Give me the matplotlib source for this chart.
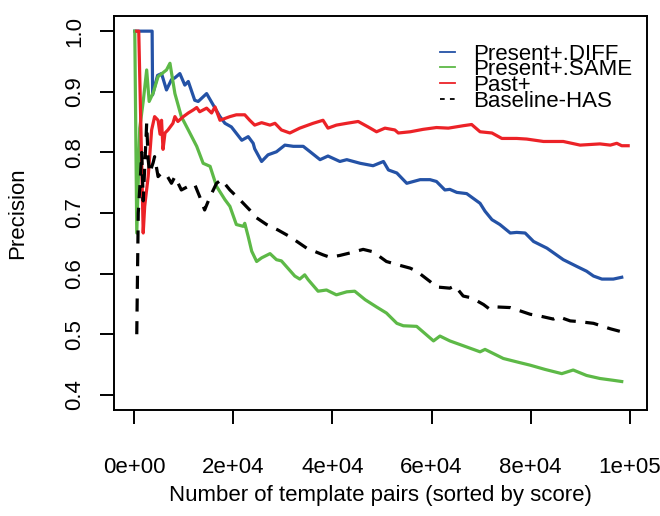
import matplotlib
matplotlib.use("Agg")
import matplotlib.pyplot as plt

plt.rcParams['font.family'] = ['Liberation Sans', 'DejaVu Sans']

# Present+.DIFF
diff_x = [100, 3600, 3700, 4700, 5500, 6500, 7500, 8200, 9200, 10200, 10900,
          12200, 12900, 14600, 16300, 17300, 18300, 19600, 21700, 23000, 24000,
          24300, 25700, 27000, 28700, 30400, 32100, 34100, 35500, 37500, 39100,
          41500, 42900, 45600, 48200, 50300, 51300, 53000, 55000, 57700, 59700,
          61000, 62700, 63700, 65100, 67100, 69800, 70800, 72200, 73800, 75900,
          77200, 78900, 80600, 83300, 86600, 89300, 91300, 92700, 94400, 96700,
          98400]
diff_y = [1.0, 1.0, 0.895, 0.927, 0.93, 0.903, 0.92, 0.923, 0.93, 0.911, 0.917,
          0.886, 0.884, 0.897, 0.873, 0.859, 0.848, 0.842, 0.82, 0.826, 0.815,
          0.806, 0.785, 0.796, 0.801, 0.812, 0.81, 0.81, 0.801, 0.788, 0.794,
          0.785, 0.788, 0.782, 0.778, 0.785, 0.771, 0.766, 0.749, 0.755, 0.755,
          0.752, 0.738, 0.739, 0.734, 0.732, 0.716, 0.703, 0.689, 0.681, 0.667,
          0.668, 0.667, 0.653, 0.642, 0.623, 0.612, 0.604, 0.596, 0.591, 0.591,
          0.594]

# Present+.SAME
same_x = [100, 500, 1100, 1800, 2500, 3000, 3800, 4800, 6500, 7200, 8200, 9500,
          10900, 12600, 13900, 15300, 16600, 18300, 19300, 20600, 22000, 22300,
          23000, 23700, 24700, 25700, 27400, 28700, 29700, 32400, 33400, 34400,
          35100, 37100, 38800, 40800, 42900, 44500, 46600, 48900, 50900, 53000,
          54300, 57000, 60400, 61700, 63700, 67100, 69800, 70800, 74500, 77900,
          79900, 82900, 86300, 88600, 91300, 94000, 96700, 98400]
same_y = [1.0, 0.667, 0.84, 0.884, 0.936, 0.884, 0.898, 0.925, 0.936, 0.947,
          0.897, 0.859, 0.837, 0.81, 0.782, 0.777, 0.744, 0.722, 0.711, 0.681,
          0.678, 0.683, 0.661, 0.637, 0.62, 0.626, 0.633, 0.623, 0.621, 0.596,
          0.591, 0.598, 0.59, 0.571, 0.573, 0.565, 0.57, 0.571, 0.557, 0.545,
          0.535, 0.518, 0.514, 0.513, 0.489, 0.497, 0.489, 0.479, 0.471, 0.475,
          0.46, 0.453, 0.449, 0.442, 0.435, 0.441, 0.432, 0.427, 0.424, 0.422]

# Past+
past_x = [500, 900, 1800, 2100, 2800, 3500, 4100, 4800, 5200, 5500, 5800, 6200,
          6800, 7800, 8200, 8800, 9900, 10900, 11900, 12600, 13200, 14600, 15600,
          16300, 17300, 18300, 19300, 20600, 22300, 23300, 24300, 25700, 27400,
          28400, 29700, 31400, 33400, 36100, 38100, 39100, 40800, 42900, 45200,
          47200, 48900, 50600, 52600, 53300, 55700, 58300, 61000, 63400, 66400,
          68100, 69800, 72200, 74200, 77200, 79200, 82600, 86600, 90000, 94000,
          96100, 97400, 98400, 99700]
past_y = [1.0, 1.0, 0.667, 0.711, 0.76, 0.837, 0.859, 0.853, 0.83, 0.853, 0.805,
          0.832, 0.837, 0.848, 0.859, 0.851, 0.859, 0.865, 0.87, 0.874, 0.867,
          0.873, 0.865, 0.875, 0.853, 0.856, 0.859, 0.862, 0.862, 0.853, 0.845,
          0.849, 0.845, 0.848, 0.837, 0.832, 0.84, 0.848, 0.853, 0.84, 0.845,
          0.848, 0.851, 0.842, 0.834, 0.84, 0.837, 0.832, 0.834, 0.838, 0.841,
          0.84, 0.844, 0.846, 0.834, 0.832, 0.823, 0.823, 0.822, 0.818, 0.818,
          0.812, 0.814, 0.812, 0.815, 0.811, 0.811]

# Baseline-HAS
base_x = [500, 800, 1100, 1500, 1800, 2500, 2800, 3100, 3800, 4100, 4800, 5500,
          6500, 7500, 8200, 9500, 10900, 12200, 13200, 14200, 15300, 16600,
          17600, 19300, 21300, 23300, 24700, 26700, 29000, 31400, 34800, 38100,
          39500, 41500, 43500, 46200, 48200, 50900, 53000, 55700, 57000, 59700,
          61000, 63700, 64700, 66400, 68100, 70500, 71800, 73200, 75900, 79900,
          81900, 84600, 85600, 88000, 89600, 92700, 96100, 98400]
base_y = [0.5, 0.7, 0.74, 0.8, 0.72, 0.848, 0.788, 0.766, 0.783, 0.793, 0.76,
          0.766, 0.763, 0.749, 0.76, 0.738, 0.744, 0.747, 0.727, 0.705, 0.727,
          0.749, 0.755, 0.738, 0.722, 0.705, 0.692, 0.681, 0.672, 0.661, 0.642,
          0.631, 0.627, 0.63, 0.634, 0.64, 0.636, 0.62, 0.615, 0.609, 0.604,
          0.587, 0.578, 0.576, 0.58, 0.563, 0.56, 0.549, 0.541, 0.545, 0.544,
          0.533, 0.53, 0.525, 0.529, 0.522, 0.521, 0.518, 0.509, 0.504]

x_ticks = [0, 20000, 40000, 60000, 80000, 100000]
x_tick_labels = ["0e+00", "2e+04", "4e+04", "6e+04", "8e+04", "1e+05"]
y_ticks = [0.4, 0.5, 0.6, 0.7, 0.8, 0.9, 1.0]
y_tick_labels = ["0.4", "0.5", "0.6", "0.7", "0.8", "0.9", "1.0"]

fig = plt.figure(figsize=(6.6, 5.16), dpi=100)
ax = fig.add_axes([0.1727, 0.2054, 0.8076, 0.7636])

lw = 2.3
ax.plot(diff_x, diff_y, color='#2452A6', lw=lw, label='Present+.DIFF')
ax.plot(same_x, same_y, color='#5DB947', lw=lw, label='Present+.SAME')
ax.plot(past_x, past_y, color='#EC2227', lw=lw, label='Past+')
ax.plot(base_x, base_y, color='black', lw=lw, linestyle=(0, (4.1, 3.0)),
        label='Baseline-HAS')

ax.set_xlim(-4100, 103500)
ax.set_ylim(0.375, 1.025)
ax.set_xticks(x_ticks)
ax.set_xticklabels(x_tick_labels)
ax.set_yticks(y_ticks)
ax.set_yticklabels(y_tick_labels, rotation=90, va='center')

ax.tick_params(axis='both', direction='out', length=10, width=1.4, labelsize=16)
ax.tick_params(axis='x', pad=24)
ax.tick_params(axis='y', pad=11)
for s in ax.spines.values():
    s.set_linewidth(1.4)

ax.set_xlabel('Number of template pairs (sorted by score)', fontsize=16, labelpad=5)
ax.set_ylabel('Precision', fontsize=16, labelpad=26)

leg = ax.legend(loc='upper left', bbox_to_anchor=(0.612, 0.93), frameon=False,
                fontsize=16, handlelength=0.65, handletextpad=0.85,
                labelspacing=-0.24, borderpad=0, borderaxespad=0)
for h in leg.legend_handles:
    h.set_linewidth(1.3)
leg.legend_handles[3].set_linestyle((0, (2.6, 2.9)))

fig.savefig('out.png', dpi=100)
